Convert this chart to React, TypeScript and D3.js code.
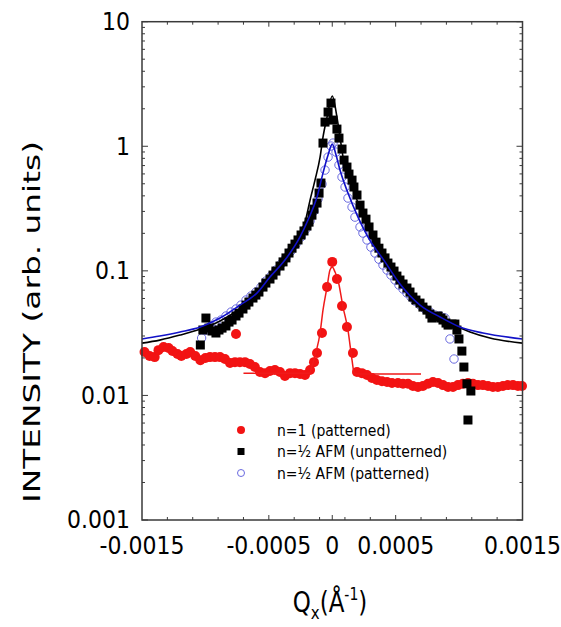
import React from 'react';
import * as d3 from 'd3';

// ---------- data ----------
const xTickValues = [-0.0015, -0.0005, 0, 0.0005, 0.0015];
const xTickText = ['-0.0015', '-0.0005', '0', '0.0005', '0.0015'];
const yTickValues = [10, 1, 0.1, 0.01, 0.001];
const yTickText = ['10', '1', '0.1', '0.01', '0.001'];

// n=1 (patterned)
const redPoints: [number, number][] = [
  [-0.00148, 0.0223], [-0.00144, 0.0207], [-0.0014, 0.0203], [-0.00137, 0.0231], [-0.00133, 0.0245],
  [-0.00129, 0.024], [-0.00126, 0.0227], [-0.00122, 0.0215], [-0.00119, 0.0207], [-0.00115, 0.0215],
  [-0.00112, 0.0223], [-0.00108, 0.0207], [-0.00104, 0.0192], [-0.001, 0.02], [-0.000964, 0.0203],
  [-0.000925, 0.0203], [-0.000885, 0.0203], [-0.000846, 0.0196], [-0.000806, 0.0182], [-0.000767, 0.0185],
  [-0.000728, 0.0185], [-0.000688, 0.0185], [-0.000649, 0.0179], [-0.00061, 0.0169], [-0.00057, 0.0154],
  [-0.00053, 0.0151], [-0.000491, 0.0157], [-0.000452, 0.016], [-0.000412, 0.0154], [-0.000373, 0.0143],
  [-0.000333, 0.0151], [-0.000294, 0.0151], [-0.000254, 0.01485], [-0.000215, 0.0146], [-0.000175, 0.016],
  [-0.000144, 0.0185], [-0.00012, 0.0219], [-0.000081, 0.0317], [-0.000041, 0.0741], [0.0, 0.118],
  [0.000037, 0.086], [0.000077, 0.0522], [0.000116, 0.0354], [0.000163, 0.0219], [0.000195, 0.0154],
  [0.000234, 0.0151], [0.000274, 0.0146], [0.000313, 0.0138], [0.000352, 0.0133], [0.000392, 0.013],
  [0.000432, 0.0128], [0.000471, 0.0126], [0.000518, 0.0126], [0.000558, 0.0124], [0.000597, 0.0124],
  [0.000636, 0.0119], [0.000676, 0.0117], [0.000715, 0.0119], [0.000755, 0.0124], [0.000794, 0.0128],
  [0.000834, 0.0126], [0.000873, 0.0121], [0.000913, 0.0117], [0.000952, 0.0117], [0.000991, 0.0121],
  [0.00103, 0.0124], [0.00107, 0.0126], [0.001109, 0.0124], [0.001149, 0.0121], [0.001188, 0.0121],
  [0.001228, 0.0119], [0.001267, 0.0117], [0.001306, 0.0117], [0.001346, 0.0119], [0.001385, 0.0121],
  [0.001425, 0.0121], [0.001464, 0.0119], [0.001496, 0.0119], [-0.000759, 0.0311],
];

// n=1/2 AFM (unpatterned)
const blackPoints: [number, number][] = [
  [-0.00104, 0.0254], [-0.00102, 0.0335], [-0.000996, 0.0418], [-0.000972, 0.0347], [-0.000948, 0.0329],
  [-0.000917, 0.0317], [-0.000893, 0.0335], [-0.000869, 0.0347], [-0.000838, 0.0361], [-0.000814, 0.0388],
  [-0.00079, 0.0403], [-0.000759, 0.0434], [-0.000735, 0.0458], [-0.000704, 0.0494], [-0.00068, 0.0531],
  [-0.000657, 0.0562], [-0.000625, 0.0605], [-0.000602, 0.0639], [-0.000578, 0.0676], [-0.000546, 0.0741],
  [-0.000523, 0.0798], [-0.000491, 0.086], [-0.000467, 0.0925], [-0.000444, 0.0996], [-0.000412, 0.1093],
  [-0.000388, 0.118], [-0.000365, 0.127], [-0.000341, 0.139], [-0.000317, 0.152], [-0.000294, 0.164],
  [-0.00027, 0.177], [-0.000246, 0.194], [-0.000223, 0.209], [-0.000199, 0.229], [-0.000183, 0.246],
  [-0.00016, 0.28], [-0.000144, 0.313], [-0.00012, 0.35], [-0.000104, 0.421], [-0.000089, 0.507],
  [-0.000073, 1.061], [-0.000057, 1.564], [-0.000033, 1.882], [-0.00001, 2.222], [0.000006, 1.623],
  [0.000037, 1.374], [0.000053, 1.163], [0.000077, 0.95], [0.000093, 0.775], [0.000116, 0.681],
  [0.000132, 0.598], [0.000156, 0.535], [0.000171, 0.471], [0.000195, 0.406], [0.000219, 0.337],
  [0.000242, 0.291], [0.000266, 0.26], [0.00029, 0.225], [0.000321, 0.194], [0.000345, 0.17],
  [0.000368, 0.152], [0.000392, 0.139], [0.000416, 0.127], [0.000439, 0.1155], [0.000463, 0.1073],
  [0.000487, 0.0996], [0.00051, 0.0908], [0.000534, 0.0844], [0.000558, 0.0784], [0.000589, 0.0728],
  [0.000613, 0.0676], [0.000636, 0.0616], [0.00066, 0.0583], [0.000692, 0.0551], [0.000715, 0.0512],
  [0.000747, 0.0484], [0.00077, 0.045], [0.000786, 0.0418], [0.00081, 0.0426], [0.000834, 0.0434],
  [0.000857, 0.0418], [0.000873, 0.0403], [0.000897, 0.0381], [0.000913, 0.0367], [0.000944, 0.0374],
  [0.000967, 0.0374], [0.000983, 0.0335], [0.000999, 0.0284], [0.001022, 0.0227], [0.001038, 0.0169],
  [0.001062, 0.0124], [0.001093, 0.01085], [0.00107, 0.00635],
];

// n=1/2 AFM (patterned)
const bluePoints: [number, number][] = [
  [-0.00103, 0.0289], [-0.000996, 0.0335], [-0.000956, 0.0361], [-0.000917, 0.0388], [-0.000877, 0.0403],
  [-0.000838, 0.0434], [-0.000798, 0.0467], [-0.000759, 0.0494], [-0.00072, 0.0531], [-0.00068, 0.0583],
  [-0.000641, 0.0628], [-0.000602, 0.0676], [-0.000562, 0.0741], [-0.000523, 0.0828], [-0.000483, 0.0908],
  [-0.000444, 0.1015], [-0.000404, 0.1134], [-0.000365, 0.127], [-0.000325, 0.144], [-0.000286, 0.164],
  [-0.000246, 0.187], [-0.000207, 0.217], [-0.000175, 0.251], [-0.000144, 0.302], [-0.000112, 0.377],
  [-0.000081, 0.497], [-0.000057, 0.644], [-0.000033, 0.819], [-0.00001, 1.004], [0.000006, 1.061],
  [0.00003, 0.898], [0.000053, 0.707], [0.000077, 0.566], [0.000101, 0.471], [0.000124, 0.384],
  [0.000156, 0.325], [0.000179, 0.27], [0.000219, 0.225], [0.000242, 0.201], [0.000274, 0.177],
  [0.000305, 0.155], [0.000337, 0.139], [0.000368, 0.124], [0.0004, 0.1113], [0.000432, 0.1015],
  [0.000463, 0.0925], [0.000495, 0.0844], [0.000526, 0.0769], [0.000558, 0.0714], [0.000589, 0.0663],
  [0.000621, 0.0616], [0.000652, 0.0572], [0.000692, 0.0531], [0.000731, 0.0494], [0.00077, 0.0467],
  [0.00081, 0.0442], [0.00085, 0.0434], [0.000889, 0.0418], [0.000928, 0.0284], [0.00096, 0.0196],
];

// fit curves
const blackFit: [number, number][] = [
  [-0.0015, 0.0263], [-0.00136, 0.0278], [-0.0012, 0.0305], [-0.00104, 0.0341], [-0.000885, 0.0396],
  [-0.000728, 0.0494], [-0.00057, 0.0651], [-0.000412, 0.1073], [-0.000333, 0.144], [-0.00027, 0.187],
  [-0.000215, 0.246], [-0.000175, 0.37], [-0.000136, 0.535], [-0.000096, 0.819], [-0.000073, 1.185],
  [-0.000041, 1.715], [0.0, 2.53], [0.000037, 1.715], [0.000061, 1.185], [0.000085, 0.819],
  [0.00014, 0.535], [0.000195, 0.37], [0.000258, 0.256], [0.000321, 0.187], [0.000455, 0.1113],
  [0.000613, 0.0701], [0.00077, 0.0484], [0.000928, 0.0381], [0.001086, 0.0323], [0.001243, 0.0289],
  [0.0015, 0.0263],
];
const blueFit: [number, number][] = [
  [-0.0015, 0.0284], [-0.00136, 0.03], [-0.0012, 0.0323], [-0.00104, 0.0354], [-0.000885, 0.0418],
  [-0.000728, 0.0531], [-0.000594, 0.0663], [-0.000491, 0.0892], [-0.000373, 0.122], [-0.000254, 0.187],
  [-0.000191, 0.256], [-0.00012, 0.391], [-0.000073, 0.609], [-0.000033, 0.85], [0.0, 1.041],
  [0.00003, 0.85], [0.000061, 0.644], [0.000124, 0.421], [0.000203, 0.27], [0.000281, 0.187],
  [0.000416, 0.118], [0.000534, 0.0784], [0.000692, 0.0531], [0.00085, 0.0426], [0.001007, 0.0354],
  [0.001188, 0.0317], [0.0015, 0.0284],
];
const redFit: [number, number][] = [
  [-0.0007, 0.0151], [-0.00018, 0.0151], [-0.00016, 0.0172], [-0.000128, 0.0223], [-0.000096, 0.0317],
  [-0.000073, 0.0484], [-0.000041, 0.0741], [-0.000018, 0.1015], [0.0, 0.1073], [0.000022, 0.0978],
  [0.000045, 0.0844], [0.000085, 0.0512], [0.000124, 0.0335], [0.000156, 0.0192], [0.000171, 0.0154],
  [0.000187, 0.01485], [0.0007, 0.01485],
];

const legendLabels = ['n=1 (patterned)', 'n=\u00BD AFM (unpatterned)', 'n=\u00BD AFM (patterned)'];

// ---------- layout ----------
const W = 561, H = 627;
const L = 142, R = 522.5, T = 21.7, B = 520;
const FONT = '"DejaVu Sans", Verdana, sans-serif';
const AXIS = '#3a3a3a';

export default function App() {
  const x = d3.scaleLinear().domain([-0.0015, 0.0015]).range([L, R]);
  const y = d3.scaleLog().domain([0.001, 10]).range([B, T]);

  const line = d3.line<[number, number]>().x(d => x(d[0])).y(d => y(d[1])).curve(d3.curveMonotoneX);

  const yMinor: number[] = [];
  for (let e = -3; e < 1; e++) for (let m = 2; m <= 9; m++) yMinor.push(m * Math.pow(10, e));
  const xMinor: number[] = [];
  for (let k = 1; k <= 14; k++) xMinor.push(-0.0015 + k * 0.0002);
  xMinor.push(0);

  const SQ = 9;

  return (
    <svg width={W} height={H} style={{ position: 'absolute', left: 0, top: 0, background: '#fff' }}
      fontFamily={FONT}>
      <rect x={0} y={0} width={W} height={H} fill="#fff" />
      {/* ticks */}
      <g stroke={AXIS} strokeWidth={1}>
        {yMinor.map((v, i) => (
          <g key={'ym' + i}>
            <line x1={L} x2={L + 3} y1={y(v)} y2={y(v)} />
            <line x1={R} x2={R - 3} y1={y(v)} y2={y(v)} />
          </g>
        ))}
        {yTickValues.map((v, i) => (
          <g key={'yM' + i}>
            <line x1={L} x2={L + 6} y1={y(v)} y2={y(v)} />
            <line x1={R} x2={R - 6} y1={y(v)} y2={y(v)} />
          </g>
        ))}
        {xMinor.map((v, i) => {
          const len = Math.abs(v) < 1e-9 || Math.abs(Math.abs(v) - 0.0005) < 1e-9 ? 5 : 3;
          return (
            <g key={'xm' + i}>
              <line x1={x(v)} x2={x(v)} y1={B} y2={B - len} />
              <line x1={x(v)} x2={x(v)} y1={T} y2={T + len} />
            </g>
          );
        })}
      </g>

      {/* data: red */}
      <g fill="#f21313">
        {redPoints.map((d, i) => <circle key={'r' + i} cx={x(d[0])} cy={y(d[1])} r={5} />)}
      </g>
      {/* blue circles */}
      <g fill="none" stroke="#6a6ae0" strokeWidth={1}>
        {bluePoints.map((d, i) => <circle key={'b' + i} cx={x(d[0])} cy={y(d[1])} r={4.2} />)}
      </g>
      {/* black squares */}
      <g fill="#000">
        {blackPoints.map((d, i) => <rect key={'k' + i} x={x(d[0]) - SQ / 2} y={y(d[1]) - SQ / 2} width={SQ} height={SQ} />)}
      </g>
      {/* fits */}
      <path d={line(redFit) || ''} fill="none" stroke="#f01a1a" strokeWidth={1.5} />
      <path d={line(blackFit) || ''} fill="none" stroke="#000" strokeWidth={1.6} />
      <path d={line(blueFit) || ''} fill="none" stroke="#1212c8" strokeWidth={1.6} />

      {/* frame */}
      <rect x={L} y={T} width={R - L} height={B - T} fill="none" stroke={AXIS} strokeWidth={1.5} />

      {/* tick labels */}
      <g fontSize={22} fill="#000">
        {yTickValues.map((v, i) => (
          <text key={'yl' + i} transform={`translate(130, ${y(v)}) scale(1, 1.12)`} textAnchor="end" dominantBaseline="central">{yTickText[i]}</text>
        ))}
        {xTickValues.map((v, i) => (
          <text key={'xl' + i} transform={`translate(${x(v)}, 546) scale(1, 1.12)`} textAnchor="middle" dominantBaseline="central">{xTickText[i]}</text>
        ))}
      </g>

      {/* axis titles */}
      <text transform={`translate(40, 322) rotate(-90)`} textAnchor="middle" fontSize={23} fill="#000"
        textLength={362} lengthAdjust="spacingAndGlyphs">
        INTENSITY (arb. units)
      </text>
      <g transform="translate(330, 612) scale(1, 1.2)">
        <text x={0} y={0} textAnchor="middle" fontSize={23} fill="#000">
          Q<tspan fontSize={15} dy={6}>x</tspan><tspan dy={-6}>(Å</tspan><tspan fontSize={14} dy={-10}>-1</tspan><tspan dy={10}>)</tspan>
        </text>
      </g>

      {/* legend */}
      <g fontSize={14} fill="#000">
        {legendLabels.map((t, i) => {
          const cy = 430 + i * 21.5;
          return (
            <g key={'lg' + i}>
              {i === 0 && <circle cx={241} cy={cy} r={4} fill="#f21313" />}
              {i === 1 && <rect x={237.5} y={cy - 3.5} width={7} height={7} fill="#000" />}
              {i === 2 && <circle cx={241} cy={cy} r={3.5} fill="none" stroke="#6a6ae0" strokeWidth={1} />}
              <text transform={`translate(277, ${cy}) scale(1, 1.1)`} dominantBaseline="central">{t}</text>
            </g>
          );
        })}
      </g>
    </svg>
  );
}
